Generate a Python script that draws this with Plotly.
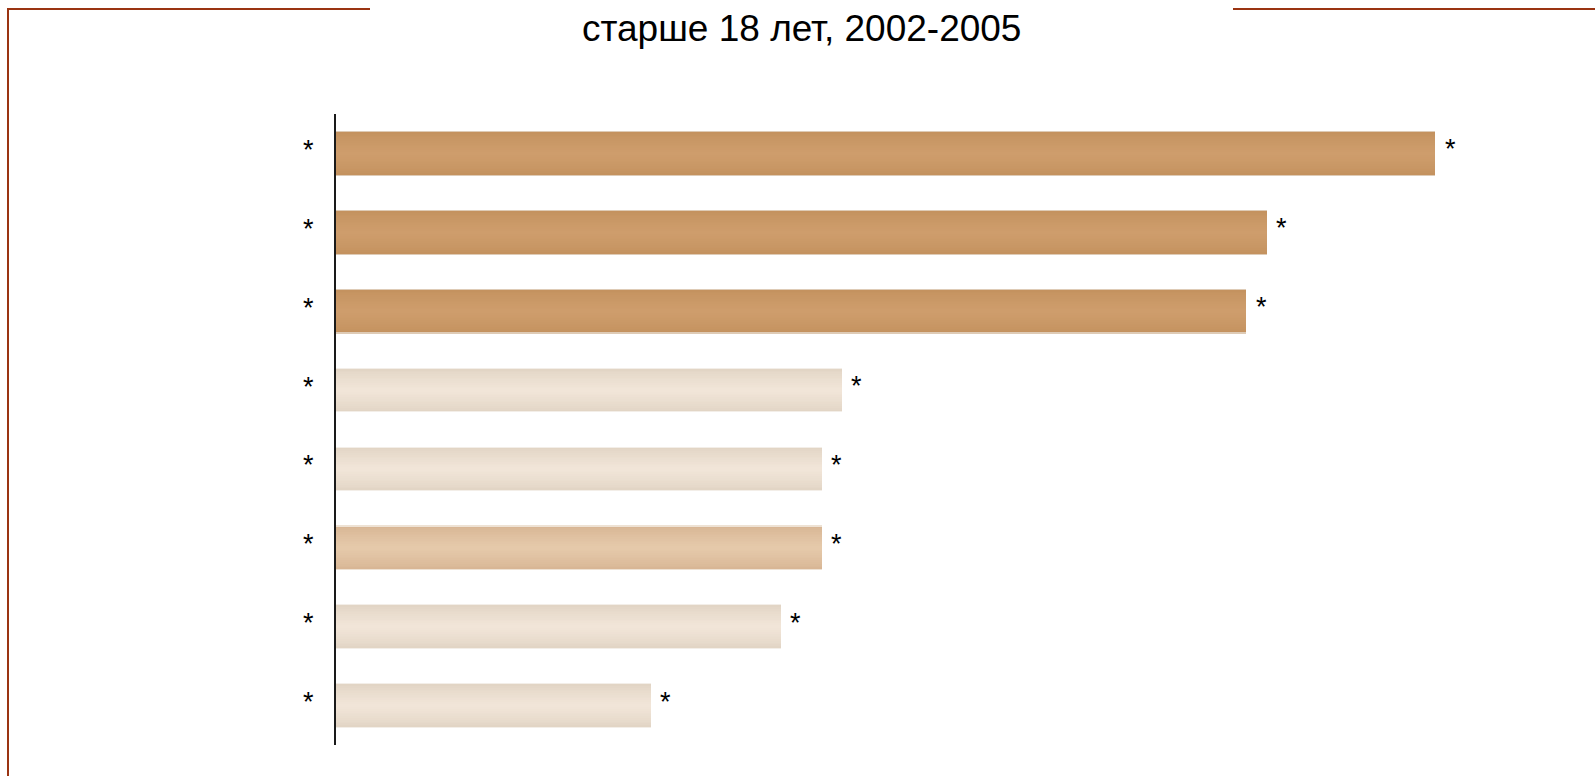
import plotly.graph_objects as go

# Category labels (masked) and bar values
labels = ["*", "*", "*", "*", "*", "*", "*", "*"]
values = [54.1, 45.8, 44.8, 24.9, 23.9, 23.9, 21.9, 15.5]
value_text = ["*", "*", "*", "*", "*", "*", "*", "*"]
groups = ["dark", "dark", "dark", "light", "light", "medium", "light", "light"]

title_text = "старше 18 лет, 2002-2005"

# colour ramps: (edge, centre, rim)
palette = {
    "dark": ((196, 146, 95), (206, 157, 108), (222, 203, 182)),
    "medium": ((216, 182, 149), (229, 201, 170), (238, 226, 212)),
    "light": ((226, 213, 197), (241, 229, 216), (243, 238, 232)),
}

W, H = 1595, 776
ML, MR, MT, MB = 336, 40, 114, 31
PW, PH = W - ML - MR, H - MT - MB

positions = list(range(len(values)))
bar_w = 0.54
layers = 12
FONT = "Liberation Sans, Arial"
STAR_SIZE = 27


def rgb(c):
    return "rgb(%d,%d,%d)" % c


def mix(a, b, t):
    return tuple(round(a[i] + (b[i] - a[i]) * t) for i in range(3))


fig = go.Figure()

# thin light rim around each bar
fig.add_trace(go.Bar(
    x=values, y=positions, orientation="h", width=bar_w + 0.028,
    marker=dict(color=[rgb(palette[g][2]) for g in groups], line_width=0),
    hoverinfo="skip", showlegend=False,
))

# vertical shading: stacked layers from edge colour to centre colour
for k in range(layers):
    t = k / (layers - 1)
    w = bar_w * (1 - k / layers)
    cols = [rgb(mix(palette[g][0], palette[g][1], t ** 0.8)) for g in groups]
    fig.add_trace(go.Bar(
        x=values, y=positions, orientation="h", width=w,
        marker=dict(color=cols, line_width=0),
        hoverinfo="skip", showlegend=False,
    ))


def xp(px):
    return (px - ML) / PW


def yp(py):
    return (H - MB - py) / PH


frame_col = "#9a3412"
shapes = [
    dict(type="line", xref="paper", yref="paper", x0=xp(8), x1=xp(8), y0=yp(9), y1=yp(H + 5),
         line=dict(color=frame_col, width=2)),
    dict(type="line", xref="paper", yref="paper", x0=xp(7), x1=xp(370), y0=yp(9), y1=yp(9),
         line=dict(color=frame_col, width=2)),
    dict(type="line", xref="paper", yref="paper", x0=xp(1233), x1=xp(W + 5), y0=yp(9), y1=yp(9),
         line=dict(color=frame_col, width=2)),
]

annotations = [dict(
    text=title_text, xref="paper", yref="paper",
    x=xp(801), y=yp(28.5), xanchor="center", yanchor="middle",
    showarrow=False, font=dict(size=37, color="black", family=FONT),
)]

# value markers at the end of each bar
for v, p, s in zip(values, positions, value_text):
    annotations.append(dict(
        text=s, x=v, y=p, xref="x", yref="y",
        xanchor="center", yanchor="middle", xshift=15, yshift=4,
        showarrow=False, font=dict(size=STAR_SIZE, color="black", family=FONT),
    ))

fig.update_layout(
    width=W, height=H,
    margin=dict(l=ML, r=MR, t=MT, b=MB, pad=0),
    paper_bgcolor="white", plot_bgcolor="white",
    barmode="overlay", bargap=0,
    showlegend=False,
    font=dict(family=FONT, color="black"),
    shapes=shapes,
    annotations=annotations,
)

fig.update_xaxes(range=[0, 60], visible=False, fixedrange=True)
fig.update_yaxes(
    range=[len(values) - 0.5, -0.5],
    tickmode="array", tickvals=positions, ticktext=labels,
    tickfont=dict(size=STAR_SIZE, color="black", family=FONT),
    ticks="", ticklabelstandoff=15, ticklabelshift=4,
    showline=True, linecolor="#1a1a1a", linewidth=2,
    showgrid=False, zeroline=False, fixedrange=True,
)

fig.write_html("out.html")
